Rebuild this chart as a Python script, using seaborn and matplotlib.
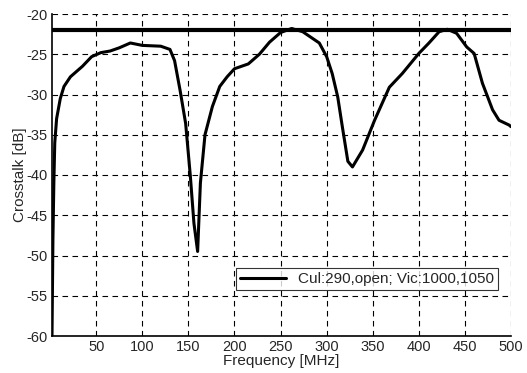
import matplotlib
matplotlib.use("Agg")
import matplotlib.pyplot as plt
import seaborn as sns
import pandas as pd

freq_mhz = [2, 3, 4, 5, 7, 11, 15, 22, 35, 45, 55, 65, 75, 87, 100, 120, 130,
            135, 141, 147, 152, 156, 160, 163, 168, 176, 184, 192, 200, 215,
            227, 238, 250, 262, 274, 292, 300, 306, 312, 317, 323, 328, 339,
            352, 368, 382, 400, 411, 422, 431, 441, 452, 460, 469, 480, 487,
            498, 500]
crosstalk_db = [-60, -48, -41, -36, -33, -30.5, -29, -27.8, -26.5, -25.3, -24.8,
                -24.6, -24.2, -23.6, -23.9, -24.0, -24.4, -25.8, -29.5, -33.6,
                -40, -46, -49.5, -41, -35, -31.5, -29, -27.8, -26.8, -26.2, -25,
                -23.5, -22.3, -21.8, -22.2, -23.6, -25.3, -27.4, -30.3, -34,
                -38.3, -39, -36.9, -33.2, -29.1, -27.4, -24.9, -23.6, -22.2,
                -21.9, -22.4, -24.1, -24.9, -28.6, -31.9, -33.2, -33.8, -34]
limit_db = -22
series_label = "Cul:290,open; Vic:1000,1050"
x_ticks = [50, 100, 150, 200, 250, 300, 350, 400, 450, 500]
y_ticks = [-60, -55, -50, -45, -40, -35, -30, -25, -20]


def main():
    sns.set_style("white")
    plt.rcParams['font.family'] = ['Liberation Sans', 'DejaVu Sans']
    plt.rcParams['axes.unicode_minus'] = False

    df = pd.DataFrame({'Frequency': freq_mhz, 'Crosstalk': crosstalk_db})

    fig = plt.figure(figsize=(5.27, 3.73), dpi=100)
    ax = fig.add_axes([52 / 527, 1 - 336 / 373, (511 - 52) / 527, (336 - 14) / 373])

    sns.lineplot(data=df, x='Frequency', y='Crosstalk', ax=ax, color='black',
                 linewidth=2.2, label=series_label)
    ax.axhline(limit_db, color='black', linewidth=3, zorder=3)

    ax.set_xlim(2, 500)
    ax.set_ylim(-60, -20)
    ax.set_xticks(x_ticks)
    ax.set_yticks(y_ticks)
    ax.grid(True, color='black', linestyle=(0, (5, 4)), linewidth=0.8)
    for side in ['top', 'right']:
        ax.spines[side].set_visible(False)
    for side in ['left', 'bottom']:
        ax.spines[side].set_color('black')
        ax.spines[side].set_linewidth(1.2)

    ax.set_xlabel('Frequency [MHz]', fontsize=11, labelpad=0)
    ax.set_ylabel('Crosstalk [dB]', fontsize=11, labelpad=0)
    ax.tick_params(labelsize=10.5, length=0, pad=3)

    leg = ax.legend(loc='lower right', bbox_to_anchor=(0.988, 0.12), fontsize=11,
                    frameon=True, fancybox=False, handlelength=3,
                    borderpad=0.25, edgecolor='black')
    leg.get_frame().set_linewidth(0.8)

    plt.savefig('out.png', dpi=100)
    plt.close()


if "__main__" == __name__:
    main()
